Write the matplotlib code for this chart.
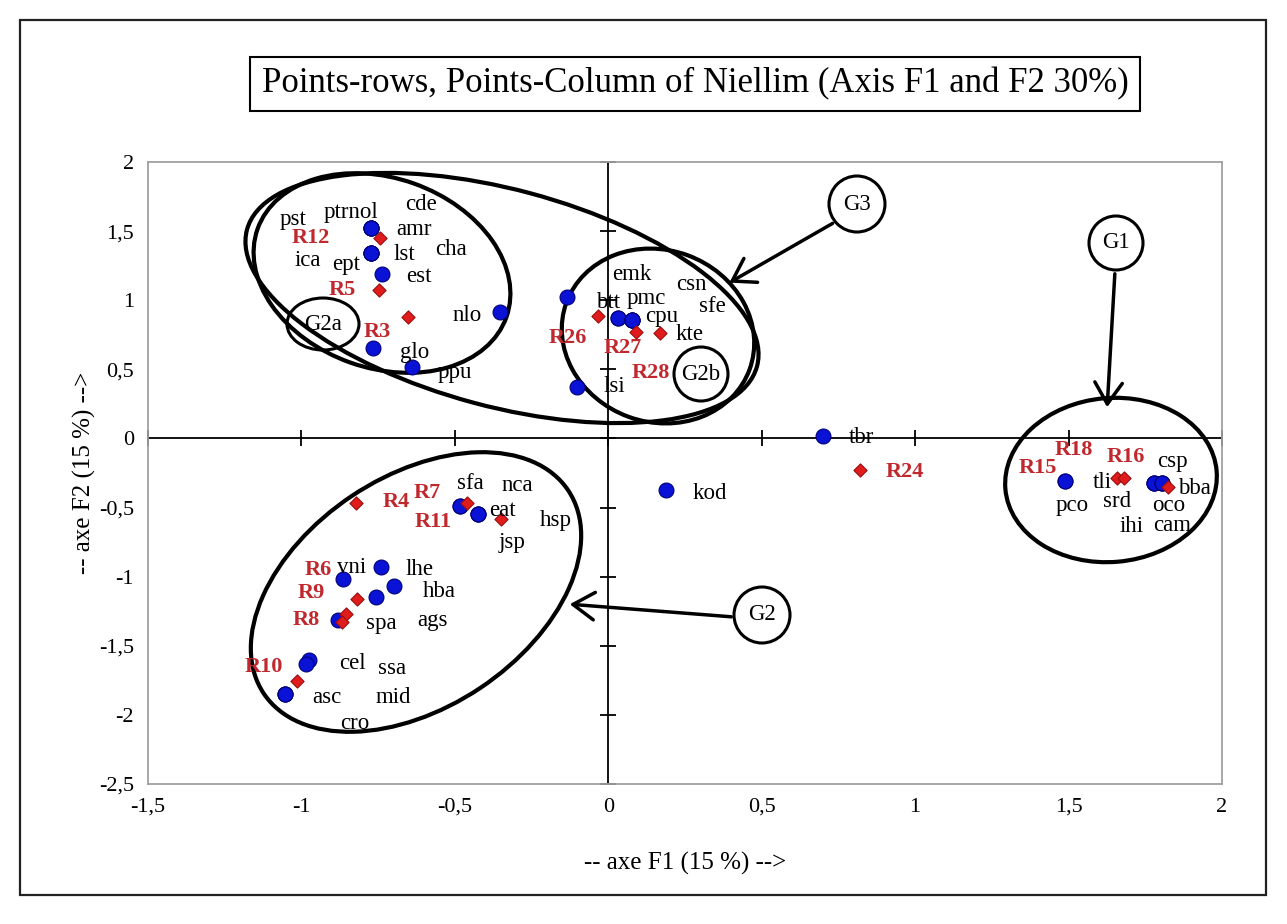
import matplotlib
matplotlib.use("Agg")
import matplotlib.pyplot as plt
from matplotlib.patches import Ellipse, Rectangle
from matplotlib.transforms import Affine2D

plt.rcParams["font.family"] = ["Liberation Serif", "DejaVu Serif"]

# column points (blue) - several labels sit on the same (overlapping) point
col_names = ["pst", "ptrnol", "cde", "amr", "ica", "ept", "lst", "cha", "est", "nlo", "glo", "ppu",
             "emk", "btt", "pmc", "csn", "sfe", "cpu", "kte", "lsi", "tbr", "kod",
             "pco", "tli", "srd", "ihi", "csp", "oco", "cam", "bba",
             "sfa", "nca", "eat", "hsp", "jsp", "vni", "lhe", "hba", "ags", "spa",
             "cel", "ssa", "asc", "mid", "cro"]
col_f1 = [-0.774, -0.774, -0.774, -0.774, -0.774, -0.774, -0.774, -0.774, -0.738, -0.353, -0.768, -0.641,
          -0.136, 0.033, 0.033, 0.076, 0.076, 0.076, 0.076, -0.103, 0.701, 0.189,
          1.488, 1.488, 1.778, 1.778, 1.778, 1.803, 1.803, 1.803,
          -0.483, -0.483, -0.424, -0.424, -0.424, -0.864, -0.741, -0.697, -0.757, -0.880,
          -0.974, -0.985, -1.054, -1.054, -1.054]
col_f2 = [1.525, 1.525, 1.525, 1.525, 1.344, 1.344, 1.344, 1.344, 1.19, 0.917, 0.654, 0.519,
          1.021, 0.869, 0.869, 0.857, 0.857, 0.857, 0.857, 0.374, 0.018, -0.373,
          -0.308, -0.308, -0.320, -0.320, -0.320, -0.325, -0.325, -0.325,
          -0.489, -0.489, -0.547, -0.547, -0.547, -1.019, -0.932, -1.068, -1.149, -1.314,
          -1.603, -1.632, -1.851, -1.851, -1.851]

# row points (red diamonds)
row_names = ["R12", "R5", "R3", "R26", "R27", "R28", "R24", "R15", "R18", "R16",
             "R4", "R7", "R11", "R9", "R6", "R8", "R10"]
row_f1 = [-0.744, -0.746, -0.652, -0.033, 0.090, 0.169, 0.820, 1.657, 1.681, 1.825,
          -0.822, -0.459, -0.351, -0.820, -0.855, -0.869, -1.015]
row_f2 = [1.450, 1.074, 0.881, 0.886, 0.772, 0.761, -0.228, -0.288, -0.288, -0.349,
          -0.465, -0.465, -0.585, -1.164, -1.270, -1.326, -1.753]

x_ticks = [-1.5, -1, -0.5, 0, 0.5, 1, 1.5, 2]
x_tick_labels = ["-1,5", "-1", "-0,5", "0", "0,5", "1", "1,5", "2"]
y_ticks = [-2.5, -2, -1.5, -1, -0.5, 0, 0.5, 1, 1.5, 2]
y_tick_labels = ["-2,5", "-2", "-1,5", "-1", "-0,5", "0", "0,5", "1", "1,5", "2"]

# label offsets from their point, in pixels (dx right, dy down)
col_offsets = {
    "pst": (-78, -8), "ptrnol": (-20, -15), "cde": (50, -23), "amr": (43, 2),
    "ica": (-63, 8), "ept": (-25, 12), "lst": (34, 2), "cha": (80, -3),
    "est": (37, 3), "nlo": (-33, 4), "glo": (42, 4), "ppu": (43, 6),
    "emk": (65, -23), "btt": (-10, -16), "pmc": (28, -20), "csn": (60, -35),
    "sfe": (81, -13), "cpu": (30, -3), "kte": (58, 15), "lsi": (38, 0),
    "tbr": (38, 2), "kod": (44, 3),
    "pco": (7, 24), "tli": (37, 1), "srd": (-37, 19), "ihi": (-22, 44),
    "csp": (19, -21), "oco": (7, 22), "cam": (11, 42), "bba": (33, 5),
    "sfa": (10, -23), "nca": (57, -21), "eat": (24, -4), "hsp": (78, 6), "jsp": (34, 28),
    "vni": (8, -12), "lhe": (39, 2), "hba": (45, 5), "ags": (57, 23), "spa": (43, 3),
    "cel": (43, 3), "ssa": (86, 4), "asc": (42, 3), "mid": (108, 3), "cro": (70, 29),
}
row_offsets = {
    "R12": (-69, 0), "R5": (-37, 0), "R3": (-31, 15), "R26": (-30, 22),
    "R27": (-13, 16), "R28": (-9, 40), "R24": (45, 2), "R15": (-79, -10),
    "R18": (-50, -28), "R16": (-43, -30), "R4": (40, -1), "R7": (-40, -10),
    "R11": (-67, 3), "R9": (-45, -6), "R6": (-28, -44), "R8": (-35, -2), "R10": (-33, -14),
}

fig = plt.figure(figsize=(12.87, 9.24), dpi=100)
# image-pixel coordinates (origin top-left) for the hand-drawn annotations
px = Affine2D().scale(1 / 100, -1 / 100).translate(0, 9.24) + fig.dpi_scale_trans

# outer frame and title box
fig.patches.append(Rectangle((20, 20), 1246, 875, transform=px, fill=False, ec="#222222", lw=1.6))
fig.patches.append(Rectangle((250, 57), 890, 54, transform=px, fill=False, ec="black", lw=1.5))
fig.text(695, 84, "Points-rows, Points-Column of Niellim (Axis F1 and F2 30%)",
         transform=px, ha="center", va="center", fontsize=25)

ax = fig.add_axes([148 / 1287, 140 / 924, 1074 / 1287, 622 / 924])
ax.set_xlim(-1.5, 2)
ax.set_ylim(-2.5, 2)
ax.set_xticks(x_ticks)
ax.set_xticklabels(x_tick_labels)
ax.set_yticks(y_ticks)
ax.set_yticklabels(y_tick_labels)
ax.tick_params(length=0, pad=10, labelsize=16)
for s in ax.spines.values():
    s.set_color("#a0a0a0")
    s.set_linewidth(1.3)

ax.set_xlabel("-- axe F1 (15 %) -->", fontsize=18, va="center")
ax.xaxis.set_label_coords(0.5, -0.128)
ax.set_ylabel("-- axe F2 (15 %) -->", fontsize=18, va="center")
ax.yaxis.set_label_coords(-0.059, 0.5)

# axes through the origin with cross ticks
ax.axhline(0, color="black", lw=1.3, zorder=1)
ax.axvline(0, color="black", lw=1.3, zorder=1)
ax.plot(x_ticks, [0] * len(x_ticks), ls="none", marker="|", ms=11, mew=1.3, color="black", clip_on=False, zorder=1)
ax.plot([0] * len(y_ticks), y_ticks, ls="none", marker="_", ms=11, mew=1.3, color="black", clip_on=False, zorder=1)

ax.scatter(col_f1, col_f2, s=115, color="#0a12d6", edgecolors="#00007a", linewidths=0.8, zorder=4)
ax.scatter(row_f1, row_f2, marker="D", s=45, color="#e01b1b", edgecolors="#9a0d0d", linewidths=0.8, zorder=5)

for name, x, y in zip(col_names, col_f1, col_f2):
    dx, dy = col_offsets[name]
    ax.annotate(name, (x, y), xytext=(dx, -dy), textcoords="offset pixels",
                ha="center", va="center", fontsize=16.5, color="black", zorder=6)
for name, x, y in zip(row_names, row_f1, row_f2):
    dx, dy = row_offsets[name]
    ax.annotate(name, (x, y), xytext=(dx, -dy), textcoords="offset pixels",
                ha="center", va="center", fontsize=16, fontweight="bold", color="#c0282d", zorder=6)

# group ellipses
groups = [
    ((382, 273), 264, 190, 19.5),
    ((502, 298), 528, 217, 15),
    ((658, 336), 195, 172, 20),
    ((416, 592), 366, 231, -33.7),
    ((1111, 480), 212, 164, -5),
]
for center, w, h, ang in groups:
    ax.add_patch(Ellipse(center, w, h, angle=ang, transform=px, fill=False,
                         ec="black", lw=3, clip_on=False, zorder=3))

# group tags
tags = [("G3", (857, 204), 56, 56), ("G1", (1116, 243), 54, 54), ("G2", (762, 615), 56, 56),
        ("G2b", (701, 374), 54, 54), ("G2a", (323, 324), 72, 52)]
for tag, center, w, h in tags:
    ax.add_patch(Ellipse(center, w, h, transform=px, fill=False, ec="black", lw=2.2,
                         clip_on=False, zorder=3))
    ax.text(center[0], center[1], tag, transform=px, ha="center", va="center", fontsize=16.5, zorder=6)

arrows = [((835, 222), (727, 284)), ((1115, 271), (1107, 410)), ((734, 617), (567, 604))]
for start, tip in arrows:
    ax.annotate("", xy=tip, xycoords=px, xytext=start, textcoords=px,
                arrowprops=dict(arrowstyle="->,head_length=0.7,head_width=0.45",
                                lw=2.5, color="black", mutation_scale=22))

fig.savefig("out.png", dpi=100)
